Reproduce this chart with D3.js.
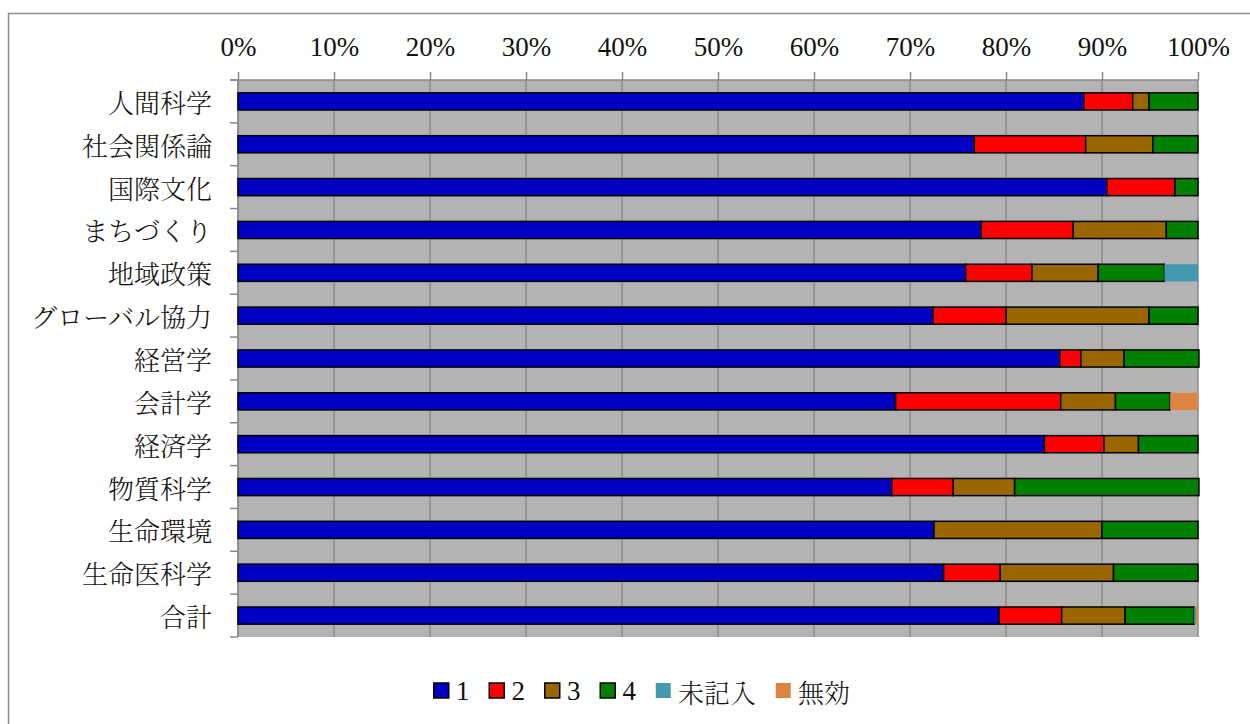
<!DOCTYPE html>
<html>
<head>
<meta charset="utf-8">
<script src="https://cdn.jsdelivr.net/npm/d3@7"></script>
<style>
  html, body { margin: 0; padding: 0; background: #fff; }
  svg { display: block; }
</style>
</head>
<body>
<svg id="chart" width="1250" height="724"></svg>
<script>
const categories = ["人間科学","社会関係論","国際文化","まちづくり","地域政策","グローバル協力","経営学","会計学","経済学","物質科学","生命環境","生命医科学","合計"];
const seriesNames = ["1","2","3","4","未記入","無効"];
const s1 =      [88.1, 76.7, 90.5, 77.4, 75.8, 72.4, 85.6, 68.5, 84.0, 68.1, 72.5, 73.5, 79.3];
const s2 =      [ 5.1, 11.6,  7.1,  9.6,  6.9,  7.6,  2.2, 17.2,  6.2,  6.4,  0.0,  5.9,  6.5];
const s3 =      [ 1.7,  7.0,  0.0,  9.7,  6.9, 14.9,  4.5,  5.7,  3.6,  6.4, 17.5, 11.8,  6.6];
const s4 =      [ 5.1,  4.7,  2.4,  3.3,  6.9,  5.1,  7.8,  5.7,  6.2, 19.2, 10.0,  8.8,  7.2];
const sMiss =   [ 0.0,  0.0,  0.0,  0.0,  3.5,  0.0,  0.0,  0.0,  0.0,  0.0,  0.0,  0.0,  0.2];
const sInvalid =[ 0.0,  0.0,  0.0,  0.0,  0.0,  0.0,  0.0,  2.9,  0.0,  0.0,  0.0,  0.0,  0.2];
const tickValues = [0,10,20,30,40,50,60,70,80,90,100];
const colors = ["#0000C4","#FF0000","#996600","#008000","#4499B0","#DD8440"];
const bordered = [true,true,true,true,false,false];

(function () {
const svg = d3.select("#chart");
const serifFont = '"Liberation Serif"';
const cjkFont = '"Noto Serif CJK JP"';

// outer frame
svg.append("rect").attr("x", 8.5).attr("y", 13.5).attr("width", 1260).attr("height", 730)
  .attr("fill", "none").attr("stroke", "#8c8c8c").attr("stroke-width", 1.5);

const pLeft = 238, pRight = 1198, pTop = 80, pBottom = 637;
const x = d3.scaleLinear().domain([0, 100]).range([pLeft, pRight]);
const y = d3.scaleBand().domain(categories).range([pTop, pBottom]).paddingInner(0.6).paddingOuter(0.3);
const yb = d3.scaleBand().domain(categories).range([pTop, pBottom]);

// plot background
svg.append("rect").attr("x", pLeft).attr("y", pTop).attr("width", pRight - pLeft).attr("height", pBottom - pTop)
  .attr("fill", "#B3B3B3");

// vertical gridlines
svg.append("g").selectAll("line").data(tickValues).join("line")
  .attr("x1", d => x(d)).attr("x2", d => x(d)).attr("y1", pTop).attr("y2", pBottom)
  .attr("stroke", "#8a8a8a").attr("stroke-width", 1.5);

// top axis
const xAxis = d3.axisTop(x).tickValues(tickValues).tickFormat(d => d + "%").tickSize(8).tickPadding(16);
const gx = svg.append("g").attr("transform", `translate(0,${pTop})`).call(xAxis);
gx.attr("font-family", null).attr("font-size", null);
gx.select(".domain").remove();
gx.selectAll(".tick line").attr("stroke", "#8a8a8a").attr("stroke-width", 1.5);
gx.selectAll(".tick text").style("font-family", serifFont).style("font-size", "27px").attr("fill", "#111");
svg.append("line").attr("x1", 230).attr("x2", pRight).attr("y1", pTop).attr("y2", pTop)
  .attr("stroke", "#8a8a8a").attr("stroke-width", 1.5);

// left axis line and boundary ticks
svg.append("line").attr("x1", pLeft).attr("x2", pLeft).attr("y1", pTop).attr("y2", pBottom)
  .attr("stroke", "#8a8a8a").attr("stroke-width", 1.5);
const boundaries = categories.map(c => yb(c)).concat([pBottom]);
svg.append("g").selectAll("line").data(boundaries).join("line")
  .attr("x1", 230).attr("x2", pLeft).attr("y1", d => d).attr("y2", d => d)
  .attr("stroke", "#8a8a8a").attr("stroke-width", 1.5);

// category labels
svg.append("g").selectAll("text").data(categories).join("text")
  .attr("x", 212).attr("y", d => yb(d) + yb.bandwidth() / 2)
  .attr("text-anchor", "end").attr("dominant-baseline", "central")
  .style("font-family", cjkFont).style("font-size", "26px").style("font-weight", 300).attr("fill", "#111")
  .text(d => d);

// stacked bars
const table = categories.map((c, i) => ({
  cat: c, "1": s1[i], "2": s2[i], "3": s3[i], "4": s4[i], "未記入": sMiss[i], "無効": sInvalid[i]
}));
const stacked = d3.stack().keys(seriesNames)(table);
svg.append("g").selectAll("g").data(stacked).join("g")
  .attr("fill", (d, i) => colors[i])
  .attr("stroke", (d, i) => bordered[i] ? "#000" : "none")
  .attr("stroke-width", 1.5)
  .selectAll("rect").data(d => d.filter(p => p[1] - p[0] > 0)).join("rect")
  .attr("x", p => x(p[0])).attr("width", p => x(p[1]) - x(p[0]))
  .attr("y", p => y(p.data.cat)).attr("height", y.bandwidth());

// legend
const legend = svg.append("g");
let lx = 433;
const ly = 691;
seriesNames.forEach((name, i) => {
  legend.append("rect").attr("x", lx + 0.75).attr("y", ly - 8).attr("width", 15).attr("height", 15)
    .attr("fill", colors[i]).attr("stroke", bordered[i] ? "#000" : "none").attr("stroke-width", 1.5);
  const isCJK = /[^\x00-\x7F]/.test(name);
  const t = legend.append("text")
    .attr("x", lx + 23).attr("y", ly).attr("dominant-baseline", "central")
    .style("font-family", isCJK ? cjkFont : serifFont).style("font-weight", isCJK ? 300 : 400)
    .style("font-size", isCJK ? "26px" : "27px").attr("fill", "#111").text(name);
  lx += 23 + t.node().getComputedTextLength() + 19;
});
})();
</script>
</body>
</html>
